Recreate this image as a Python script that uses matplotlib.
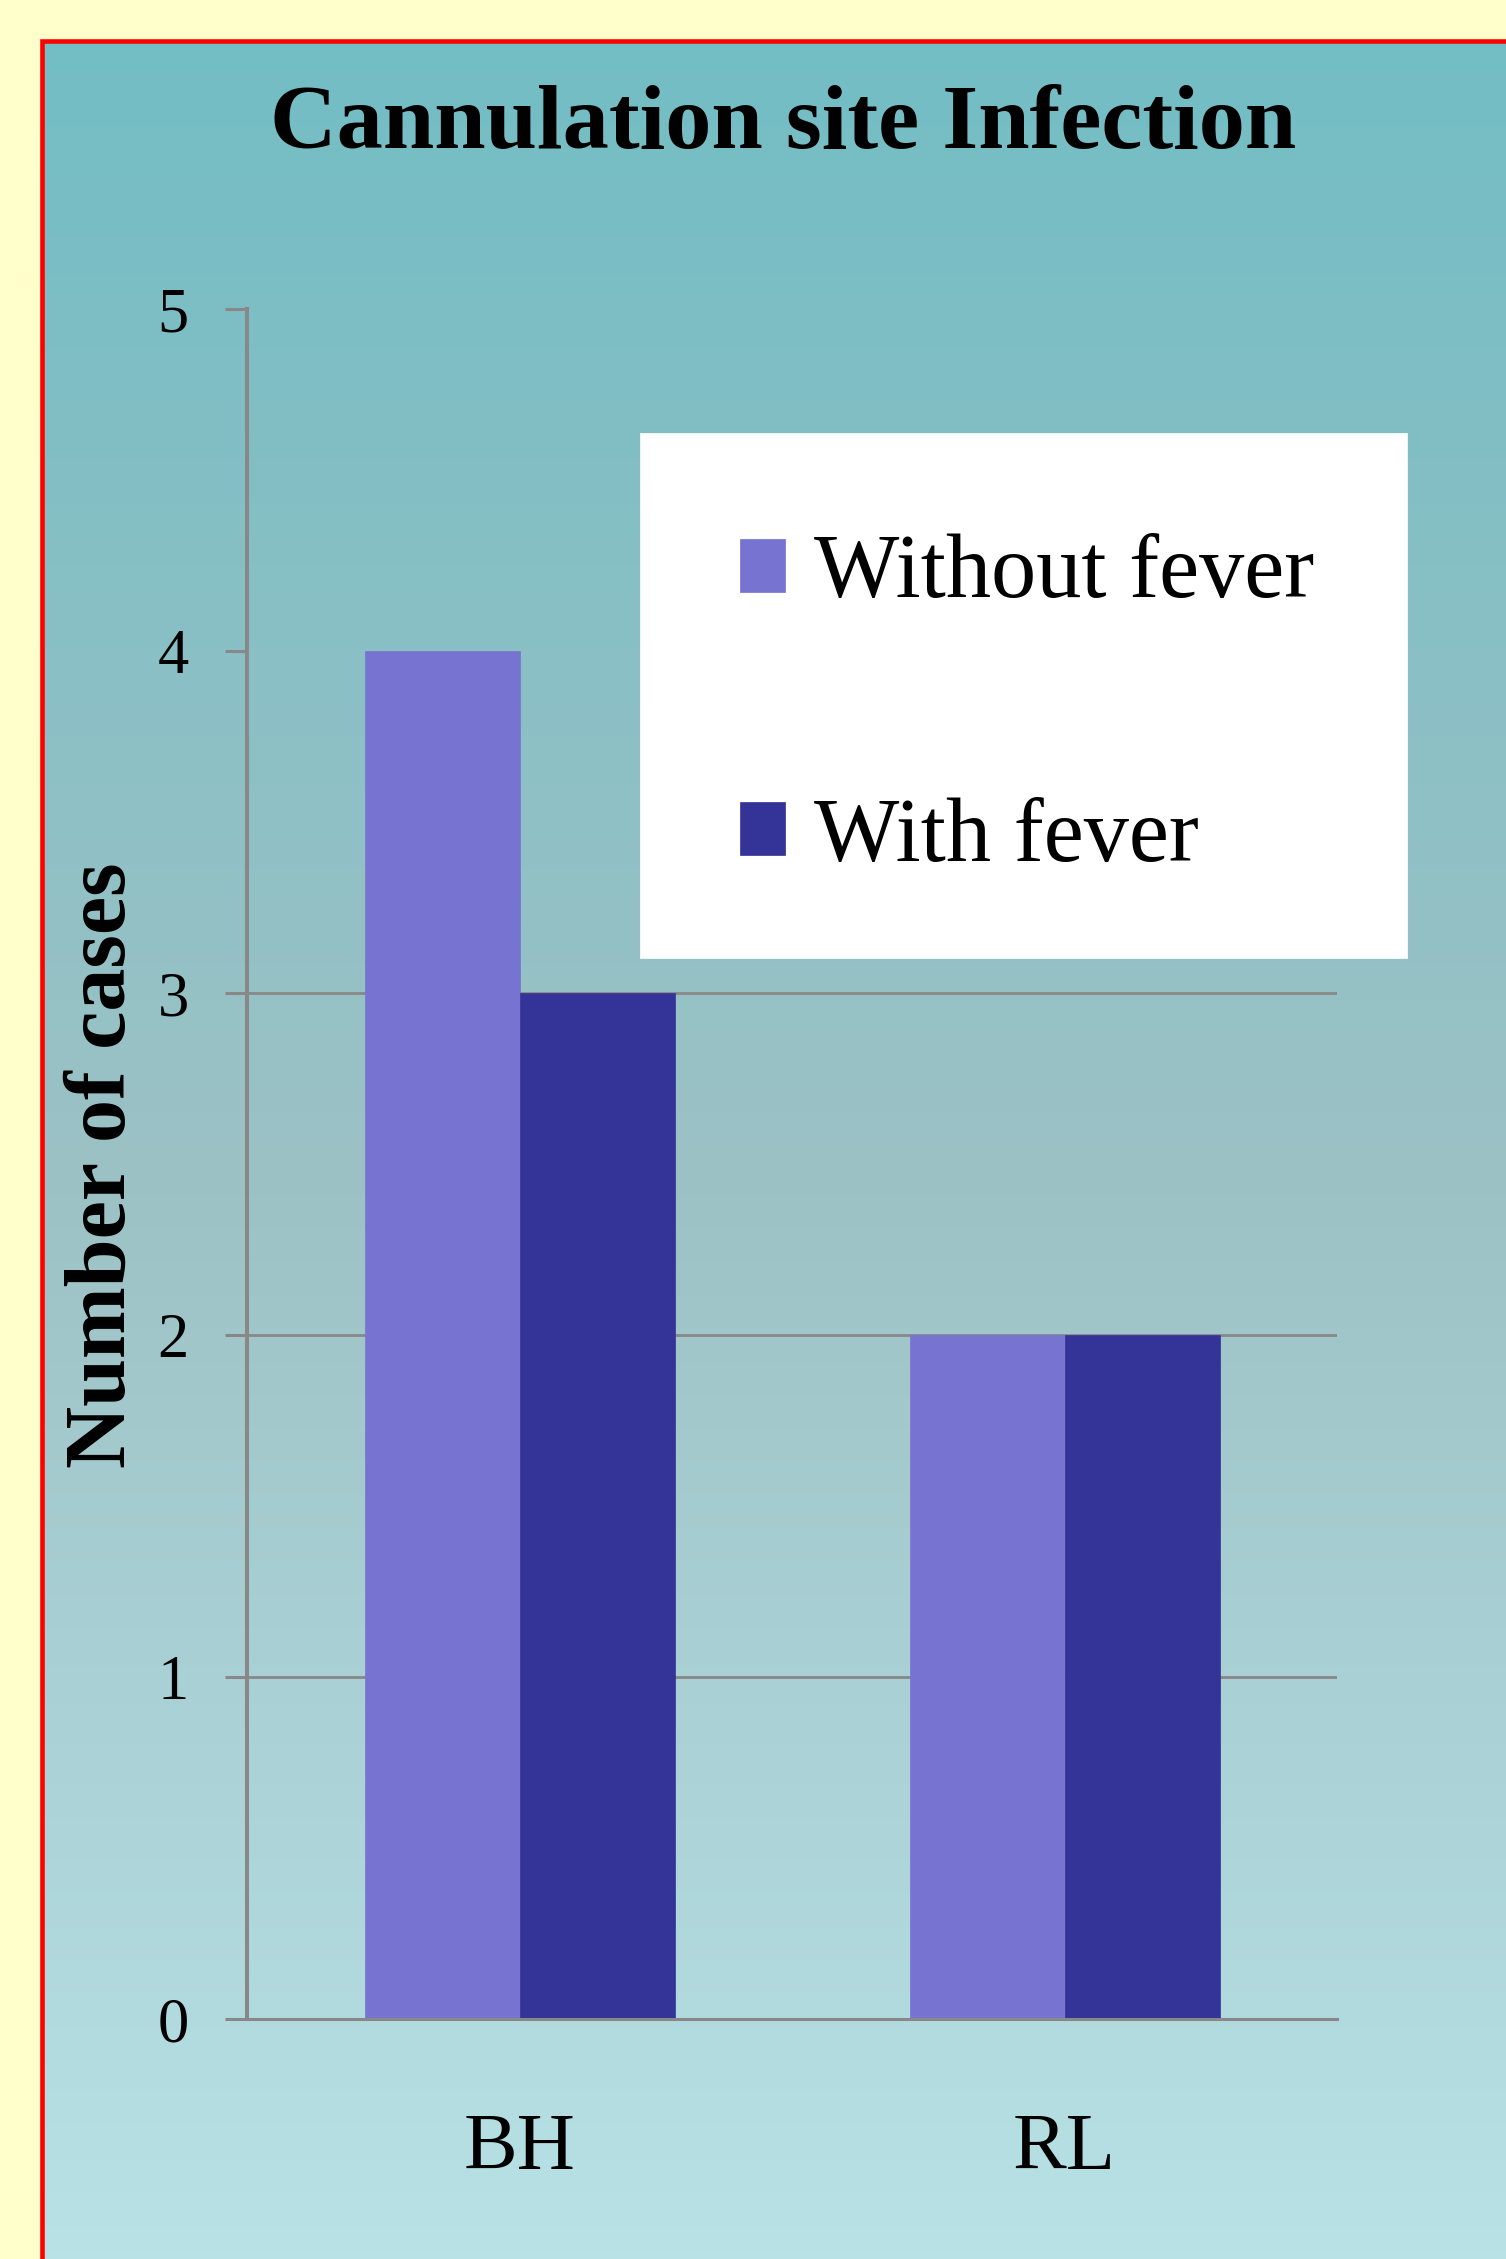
import numpy as np
import matplotlib
matplotlib.use("Agg")
import matplotlib.pyplot as plt
from matplotlib.patches import Rectangle
from matplotlib.colors import to_rgb

# ---- data ----
categories = ["BH", "RL"]
series_names = ["Without fever", "With fever"]
without_fever = [4, 2]
with_fever = [3, 2]
yticks = [0, 1, 2, 3, 4, 5]
grid_levels = [1, 2, 3]
title = "Cannulation site Infection"
ylabel = "Number of cases"

W, H = 1506, 2259
DPI = 100
fig = plt.figure(figsize=(W / DPI, H / DPI), dpi=DPI)
fig.patch.set_facecolor("#FFFFCC")

def fx(px):
    return px / W

def fy(py):
    return 1 - py / H

serif = ["Liberation Serif", "DejaVu Serif"]

# ---- gradient background inside red frame ----
bg = fig.add_axes([fx(43), 0, 1 - fx(43), fy(43)], zorder=-5)
bg.set_axis_off()
n = 400
t = np.linspace(0, 1, n)
stops = [(0.0, "#73BDC4"), (0.52, "#9DC2C6"), (1.0, "#B8E2E6")]
cols = np.zeros((n, 3))
for i in range(3):
    cols[:, i] = np.interp(t, [s[0] for s in stops], [to_rgb(s[1])[i] for s in stops])
bg.imshow(cols[:, None, :], aspect="auto", extent=[0, 1, 0, 1], origin="upper")
bg.set_xlim(0, 1)
bg.set_ylim(0, 1)

# red frame (extends past right and bottom edges)
fig.patches.append(Rectangle((fx(41.5), fy(2400)), fx(1600), fy(40.5) - fy(2400),
                             transform=fig.transFigure, fill=False,
                             edgecolor="#FF0000", linewidth=3.3, zorder=-4))

# ---- main axes ----
ax = fig.add_axes([fx(247), fy(2019), fx(1337) - fx(247), fy(309) - fy(2019)])
ax.set_facecolor("none")

x = np.arange(len(categories))
w = 155 / 545
light = "#7674D0"
dark = "#343398"
b1 = ax.bar(x - w / 2, without_fever, width=w, color=light, edgecolor=light,
            linewidth=0.5, label=series_names[0], zorder=3)
b2 = ax.bar(x + w / 2, with_fever, width=w, color=dark, edgecolor=dark,
            linewidth=0.5, label=series_names[1], zorder=3)

ax.set_xlim(-0.5, 1.5)
ax.set_ylim(0, 5)
ax.set_yticks(yticks)
ax.set_xticks(x)
ax.set_xticklabels(categories)

gray = "#888888"
ax.hlines(grid_levels, 0, 1, transform=ax.get_yaxis_transform(), colors=gray,
          linewidth=2.0, zorder=1)

for s in ["top", "right"]:
    ax.spines[s].set_visible(False)
ax.spines["left"].set_color(gray)
ax.spines["left"].set_linewidth(2.9)
ax.spines["bottom"].set_color(gray)
ax.spines["bottom"].set_linewidth(2.2)
ax.spines["bottom"].set_zorder(4)

ax.tick_params(axis="y", direction="out", length=15.8, width=2.2, color=gray,
               pad=26, labelsize=45, labelcolor="black")
ax.tick_params(axis="x", length=0, pad=68, labelsize=58, labelcolor="black")
for lab in ax.get_yticklabels() + ax.get_xticklabels():
    lab.set_fontfamily(serif)

# y label
ax.set_ylabel(ylabel, fontsize=62, fontweight="bold", family=serif, va="center")
ax.yaxis.set_label_coords((104 - 247) / 1090, (2019 - 1165) / 1710)

# title
fig.text(fx(783), fy(148), title, ha="center", va="baseline", fontsize=66.5,
         fontweight="bold", family=serif)

# legend box
fig.patches.append(Rectangle((fx(640), fy(958)), fx(1407) - fx(640), fy(433) - fy(958),
                             transform=fig.transFigure, facecolor="white",
                             edgecolor="white", linewidth=0.5, zorder=5))
leg = fig.legend(handles=[b1, b2], labels=series_names, loc="upper left",
                 bbox_to_anchor=(fx(740), fy(534)), bbox_transform=fig.transFigure,
                 frameon=False, borderpad=0, borderaxespad=0,
                 handlelength=0.5, handleheight=0.52, handletextpad=0.32,
                 labelspacing=2.0, prop={"family": serif, "size": 65})
leg.set_zorder(6)

fig.savefig("out.png", dpi=DPI, facecolor=fig.get_facecolor())
